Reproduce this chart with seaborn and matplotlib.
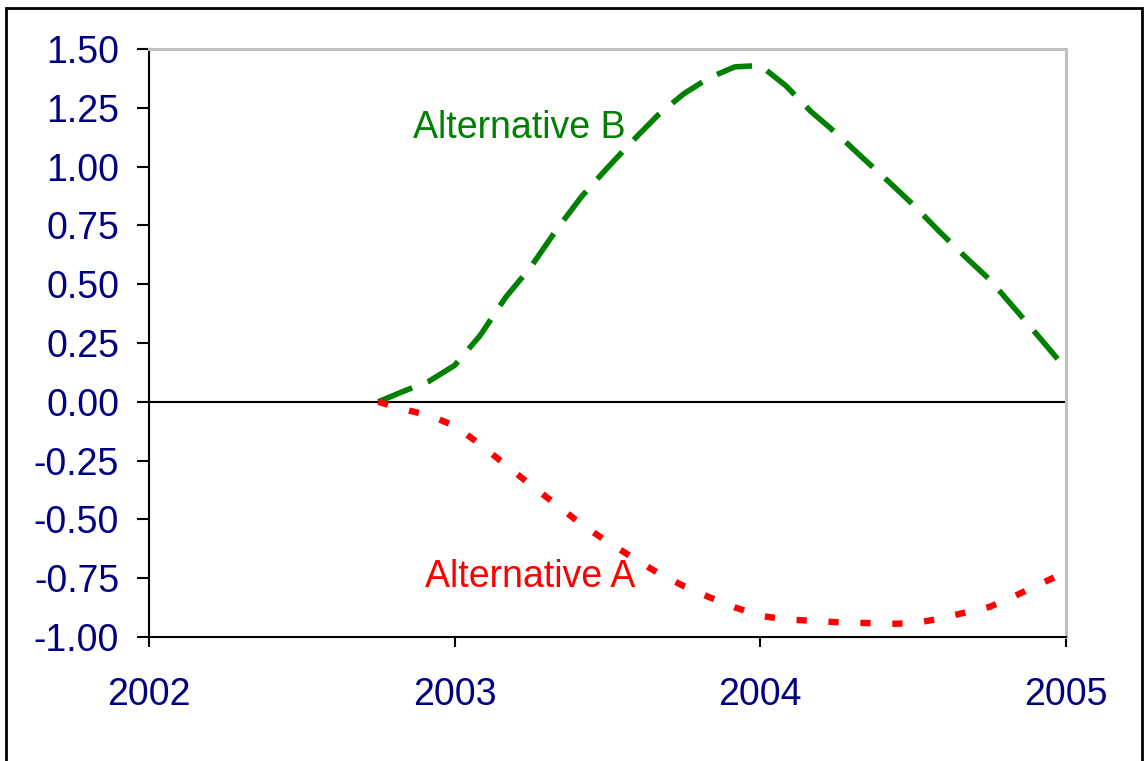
"""Two policy alternatives, deviation from baseline, 2002-2005."""

import matplotlib

matplotlib.use("Agg")
import matplotlib.pyplot as plt
import pandas as pd
import seaborn as sns
from matplotlib.patches import Rectangle

# monthly points from Q4 2002 to end of 2004
years = [2002 + 9 / 12 + i / 12 for i in range(28)]
alt_b = [0.00, 0.045, 0.088, 0.155, 0.282, 0.444, 0.575, 0.732, 0.875, 0.995,
         1.111, 1.221, 1.310, 1.378, 1.424, 1.430, 1.344, 1.233, 1.140, 1.039,
         0.940, 0.838, 0.727, 0.621, 0.520, 0.395, 0.268, 0.140]
alt_a = [0.00, -0.032, -0.058, -0.102, -0.181, -0.268, -0.355, -0.438, -0.523,
         -0.595, -0.663, -0.729, -0.784, -0.831, -0.874, -0.910, -0.925, -0.931,
         -0.937, -0.940, -0.944, -0.942, -0.923, -0.897, -0.872, -0.825, -0.774,
         -0.723]

x_ticks = [2002, 2003, 2004, 2005]
y_ticks = [-1.00, -0.75, -0.50, -0.25, 0.00, 0.25, 0.50, 0.75, 1.00, 1.25, 1.50]
y_labels = [f"{v:.2f}" for v in y_ticks]

NAVY = "#000080"
GREEN = "#008000"
RED = "#FF0000"

sns.set_style("white")
plt.rcParams["font.family"] = ["Liberation Sans", "DejaVu Sans"]
plt.rcParams["axes.unicode_minus"] = False

df = pd.DataFrame({"year": years, "B": alt_b, "A": alt_a})

fig = plt.figure(figsize=(11.48, 7.61), dpi=100)
ax = fig.add_axes([149 / 1148, 1 - 637 / 761, (1066 - 149) / 1148, (637 - 49) / 761])

ax.axhline(0, color="black", linewidth=1.5, zorder=1)
sns.lineplot(data=df, x="year", y="B", ax=ax, color=GREEN, linewidth=4.0,
             linestyle=(0, (6.6, 3.0)), zorder=3)
sns.lineplot(data=df, x="year", y="A", ax=ax, color=RED, linewidth=4.6,
             linestyle=(0, (1.6, 3.4)), zorder=3)

ax.set_xlim(2002, 2005)
ax.set_ylim(-1.0, 1.5)
ax.set_xticks(x_ticks)
ax.set_xticklabels([str(y) for y in x_ticks])
ax.set_yticks(y_ticks)
ax.set_yticklabels(y_labels)
ax.set_xlabel("")
ax.set_ylabel("")

ax.tick_params(axis="both", labelsize=27, labelcolor=NAVY, color="black",
               direction="out", width=1.5)
ax.tick_params(axis="y", length=8.5, pad=13, left=True)
ax.tick_params(axis="x", length=7.5, pad=21, bottom=True)

for side in ("left", "bottom"):
    ax.spines[side].set_color("black")
    ax.spines[side].set_linewidth(1.5)
for side in ("top", "right"):
    ax.spines[side].set_visible(True)
    ax.spines[side].set_color("#C0C0C0")
    ax.spines[side].set_linewidth(2.2)

ax.text(2002.864, 1.12, "Alternative B", color=GREEN, fontsize=27)
ax.text(2002.904, -0.787, "Alternative A", color=RED, fontsize=27)

# outer frame round the whole chart
fig.patches.append(Rectangle((6 / 1148, -0.02), (1142 - 6) / 1148, 1.02 - 8 / 761,
                             transform=fig.transFigure, fill=False,
                             edgecolor="black", linewidth=2))

fig.savefig("out.png", dpi=100)
